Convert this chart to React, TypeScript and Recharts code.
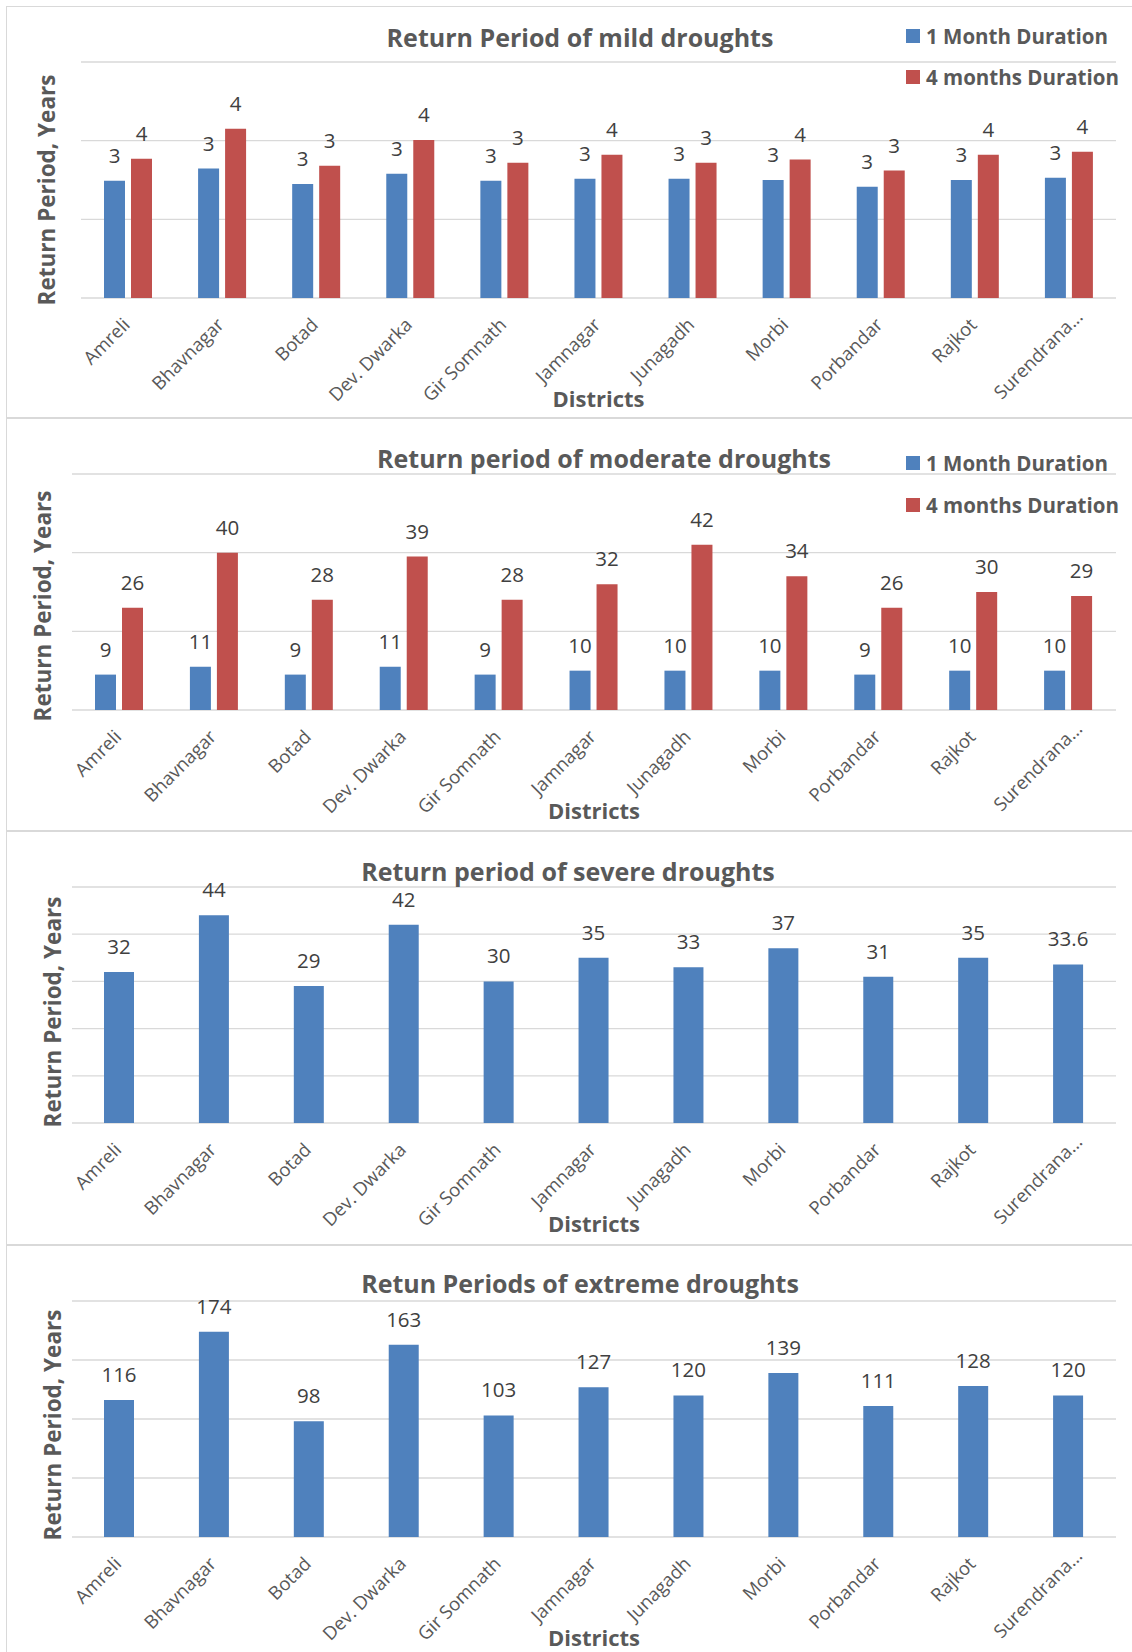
import { BarChart, Bar, XAxis, YAxis, CartesianGrid, LabelList } from "recharts";

const DISTRICTS = [
  "Amreli", "Bhavnagar", "Botad", "Dev. Dwarka", "Gir Somnath", "Jamnagar",
  "Junagadh", "Morbi", "Porbandar", "Rajkot", "Surendranagar",
];

// return periods in years
const MILD_1M = [2.98, 3.29, 2.9, 3.16, 2.98, 3.03, 3.03, 3.0, 2.83, 3.0, 3.06];
const MILD_4M = [3.54, 4.3, 3.36, 4.02, 3.44, 3.64, 3.44, 3.52, 3.24, 3.64, 3.72];
const MODERATE_1M = [9, 11, 9, 11, 9, 10, 10, 10, 9, 10, 10];
const MODERATE_4M = [26, 40, 28, 39, 28, 32, 42, 34, 26, 30, 29];
const SEVERE = [32, 44, 29, 42, 30, 35, 33, 37, 31, 35, 33.6];
const EXTREME = [116, 174, 98, 163, 103, 127, 120, 139, 111, 128, 120];

const MILD_TICKS = [0, 2, 4, 6];
const MODERATE_TICKS = [0, 20, 40, 60];
const SEVERE_TICKS = [0, 10, 20, 30, 40, 50];
const EXTREME_TICKS = [0, 50, 100, 150, 200];

const BLUE = "#4F81BD";
const RED = "#C0504D";
const GREY = "#595959";
const FONT = "'Open Sans', sans-serif";

const TWO_DURATIONS = [
  { key: "m1", name: "1 Month Duration", color: BLUE },
  { key: "m4", name: "4 months Duration", color: RED },
];
const ONE_SERIES = [{ key: "m1", name: "Return period", color: BLUE }];

const rows = (a: number[], b?: number[]) =>
  DISTRICTS.map((district, i) => ({ district, m1: a[i], m4: b ? b[i] : undefined }));

const PANEL_W = 1128;
const PLOT_TOP = 56;
const PLOT_BOTTOM = 292;
const PLOT_RIGHT = 1110;

function DistrictTick(props: any) {
  const { x, y, payload } = props;
  const name: string = payload.value;
  const cut = name.length > 12;
  const label = cut ? name.slice(0, 10) + "..." : name;
  // shortened names sit a little higher and further right
  const dx = cut ? 15 : 3;
  const dy = cut ? 20 : 28;
  return (
    <g transform={`translate(${x + dx},${y + dy})`}>
      <text textAnchor="end" transform="rotate(-45)" fontSize={18.5} fill={GREY} fontFamily={FONT}>
        {label}
      </text>
    </g>
  );
}

interface PanelProps {
  top: number;
  height: number;
  title: string;
  titleX: number;
  titleY: number;
  data: any[];
  series: { key: string; name: string; color: string }[];
  ticks: number[];
  barSize: number;
  plotLeft: number;
  yTitleX: number;
  yTitleY: number;
  legendY?: number[];
  fmt?: (v: any) => string;
}

function Panel(p: PanelProps) {
  const fmt = p.fmt ?? ((v: any) => String(v));
  return (
    <div
      style={{
        position: "absolute", left: 6, top: p.top, width: PANEL_W, height: p.height,
        background: "#fff", boxShadow: "inset 0 0 0 1px #d9d9d9",
      }}
    >
      <BarChart
        width={PANEL_W}
        height={p.height}
        data={p.data}
        margin={{ top: PLOT_TOP, right: PANEL_W - PLOT_RIGHT, left: p.plotLeft, bottom: 0 }}
        barGap={6}
        barSize={p.barSize}
      >
        <CartesianGrid vertical={false} stroke="#d9d9d9" strokeWidth={1.3} />
        <XAxis
          dataKey="district"
          height={p.height - PLOT_BOTTOM}
          axisLine={false}
          tickLine={false}
          tickSize={0}
          tickMargin={0}
          interval={0}
          tick={(t: any) => <DistrictTick {...t} />}
        />
        <YAxis
          width={0}
          domain={[p.ticks[0], p.ticks[p.ticks.length - 1]]}
          ticks={p.ticks}
          interval={0}
          tick={() => <g />}
          axisLine={false}
          tickLine={false}
        />
        {p.series.map((s) => (
          <Bar key={s.key} dataKey={s.key} fill={s.color} isAnimationActive={false}>
            <LabelList
              dataKey={s.key}
              position="top"
              offset={18}
              fill="#404040"
              fontSize={20.5}
              fontFamily={FONT}
              formatter={fmt}
            />
          </Bar>
        ))}
      </BarChart>

      <div
        style={{
          position: "absolute", left: p.titleX, top: p.titleY, transform: "translate(-50%,-50%)",
          whiteSpace: "nowrap", fontSize: 25, fontWeight: 700, color: GREY,
        }}
      >
        {p.title}
      </div>

      <div
        style={{
          position: "absolute", left: p.yTitleX, top: p.yTitleY,
          transform: "translate(-50%,-50%) rotate(-90deg)", whiteSpace: "nowrap",
          fontSize: 22.5, fontWeight: 700, color: GREY,
        }}
      >
        Return Period, Years
      </div>

      <div
        style={{
          position: "absolute", left: (p.plotLeft + PLOT_RIGHT) / 2, top: 392,
          transform: "translate(-50%,-50%)", whiteSpace: "nowrap",
          fontSize: 22, fontWeight: 700, color: GREY,
        }}
      >
        Districts
      </div>

      {p.legendY &&
        p.series.map((s, i) => (
          <div
            key={s.key}
            style={{
              position: "absolute", left: 900, top: p.legendY![i], transform: "translateY(-50%)",
              display: "flex", alignItems: "center", whiteSpace: "nowrap",
              fontSize: 20.5, fontWeight: 700, color: GREY,
            }}
          >
            <span style={{ width: 14, height: 14, background: s.color, marginRight: 6, display: "inline-block" }} />
            {s.name}
          </div>
        ))}
    </div>
  );
}

export default function App() {
  return (
    <div style={{ position: "relative", width: 1132, height: 1652, overflow: "hidden", fontFamily: FONT, background: "#fff" }}>
      <style>{"body{margin:0}"}</style>
      <Panel
        top={6} height={412}
        title="Return Period of mild droughts" titleX={574} titleY={31}
        data={rows(MILD_1M, MILD_4M)} series={TWO_DURATIONS} ticks={MILD_TICKS}
        barSize={21} plotLeft={75} yTitleX={40} yTitleY={184} legendY={[30, 71]}
        fmt={(v) => String(Math.round(v))}
      />
      <Panel
        top={418} height={413}
        title="Return period of moderate droughts" titleX={598} titleY={40}
        data={rows(MODERATE_1M, MODERATE_4M)} series={TWO_DURATIONS} ticks={MODERATE_TICKS}
        barSize={21} plotLeft={66} yTitleX={36} yTitleY={188} legendY={[45, 87]}
      />
      <Panel
        top={831} height={414}
        title="Return period of severe droughts" titleX={562} titleY={40}
        data={rows(SEVERE)} series={ONE_SERIES} ticks={SEVERE_TICKS}
        barSize={30} plotLeft={66} yTitleX={46} yTitleY={181}
      />
      <Panel
        top={1245} height={420}
        title="Retun Periods of extreme droughts" titleX={574} titleY={38}
        data={rows(EXTREME)} series={ONE_SERIES} ticks={EXTREME_TICKS}
        barSize={30} plotLeft={66} yTitleX={46} yTitleY={180}
      />
    </div>
  );
}
